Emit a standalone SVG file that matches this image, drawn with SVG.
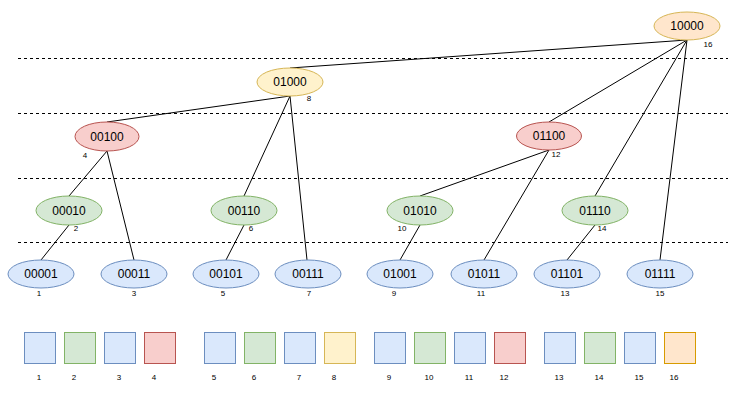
<svg xmlns="http://www.w3.org/2000/svg" width="739" height="394" viewBox="0 0 739 394">
<style>
text{font-family:"Liberation Sans",Arial,sans-serif;fill:#000}
.n{font-size:12px;text-anchor:middle;dominant-baseline:central}
.s{font-size:8px;text-anchor:middle}
.b{font-size:8px;text-anchor:middle}
.blue{fill:#dae8fc;stroke:#6c8ebf}
.green{fill:#d5e8d4;stroke:#82b366}
.red{fill:#f8cecc;stroke:#b85450}
.yellow{fill:#fff2cc;stroke:#d6b656}
.orange{fill:#ffe6cc;stroke:#d6b656}
.orange2{fill:#ffe6cc;stroke:#d79b00}
.dash{stroke:#000;stroke-dasharray:3 3;fill:none}
.e{stroke:#000;fill:none}
</style>
<rect width="739" height="394" fill="#fff"/>
<g id="levels">
<line class="dash" x1="18" y1="58.5" x2="728" y2="58.5"/>
<line class="dash" x1="18" y1="113.5" x2="728" y2="113.5"/>
<line class="dash" x1="18" y1="178.5" x2="728" y2="178.5"/>
<line class="dash" x1="18" y1="242.5" x2="728" y2="242.5"/>
</g>
<g id="connectors">
<line class="e" x1="687" y1="40" x2="290" y2="68"/>
<line class="e" x1="687" y1="40" x2="549" y2="122"/>
<line class="e" x1="687" y1="40" x2="595" y2="196"/>
<line class="e" x1="687" y1="40" x2="660" y2="260"/>
<line class="e" x1="290" y1="96" x2="107" y2="122"/>
<line class="e" x1="290" y1="96" x2="244" y2="196"/>
<line class="e" x1="290" y1="96" x2="307" y2="260"/>
<line class="e" x1="107" y1="151" x2="69" y2="196"/>
<line class="e" x1="107" y1="151" x2="134" y2="260"/>
<line class="e" x1="69" y1="225" x2="41" y2="260"/>
<line class="e" x1="244" y1="225" x2="226" y2="260"/>
<line class="e" x1="549" y1="150" x2="420" y2="196"/>
<line class="e" x1="549" y1="150" x2="484" y2="260"/>
<line class="e" x1="420" y1="225" x2="400" y2="260"/>
<line class="e" x1="595" y1="225" x2="567" y2="260"/>
</g>
<g id="n10000"><ellipse class="orange" cx="687" cy="26" rx="33" ry="14"/><text class="n" x="687" y="26">10000</text><text class="s" x="708" y="47">16</text></g>
<g id="n01000"><ellipse class="yellow" cx="290" cy="82" rx="33" ry="14"/><text class="n" x="290" y="82">01000</text><text class="s" x="309" y="101">8</text></g>
<g id="n00100"><ellipse class="red" cx="107" cy="136.5" rx="32" ry="14.5"/><text class="n" x="107" y="136.5">00100</text><text class="s" x="85" y="158">4</text></g>
<g id="n01100"><ellipse class="red" cx="549" cy="136" rx="32.5" ry="14"/><text class="n" x="549" y="136">01100</text><text class="s" x="556" y="157">12</text></g>
<g id="n00010"><ellipse class="green" cx="69" cy="210.5" rx="33" ry="14.5"/><text class="n" x="69" y="210.5">00010</text><text class="s" x="76" y="231">2</text></g>
<g id="n00110"><ellipse class="green" cx="244" cy="210.5" rx="33" ry="14.5"/><text class="n" x="244" y="210.5">00110</text><text class="s" x="251" y="231">6</text></g>
<g id="n01010"><ellipse class="green" cx="420" cy="210.5" rx="33" ry="14.5"/><text class="n" x="420" y="210.5">01010</text><text class="s" x="402" y="231">10</text></g>
<g id="n01110"><ellipse class="green" cx="595" cy="210.5" rx="33" ry="14.5"/><text class="n" x="595" y="210.5">01110</text><text class="s" x="602" y="231">14</text></g>
<g id="n00001"><ellipse class="blue" cx="41" cy="274" rx="33" ry="14"/><text class="n" x="41" y="274">00001</text><text class="s" x="39" y="296">1</text></g>
<g id="n00011"><ellipse class="blue" cx="134" cy="274" rx="33" ry="14"/><text class="n" x="134" y="274">00011</text><text class="s" x="134" y="296">3</text></g>
<g id="n00101"><ellipse class="blue" cx="226" cy="274" rx="33" ry="14"/><text class="n" x="226" y="274">00101</text><text class="s" x="223" y="296">5</text></g>
<g id="n00111"><ellipse class="blue" cx="308" cy="274" rx="33" ry="14"/><text class="n" x="308" y="274">00111</text><text class="s" x="309" y="296">7</text></g>
<g id="n01001"><ellipse class="blue" cx="400" cy="274" rx="33" ry="14"/><text class="n" x="400" y="274">01001</text><text class="s" x="394" y="296">9</text></g>
<g id="n01011"><ellipse class="blue" cx="484" cy="274" rx="33" ry="14"/><text class="n" x="484" y="274">01011</text><text class="s" x="481" y="296">11</text></g>
<g id="n01101"><ellipse class="blue" cx="567" cy="274" rx="33" ry="14"/><text class="n" x="567" y="274">01101</text><text class="s" x="565" y="296">13</text></g>
<g id="n01111"><ellipse class="blue" cx="660" cy="274" rx="33" ry="14"/><text class="n" x="660" y="274">01111</text><text class="s" x="660" y="296">15</text></g>
<g id="boxes">
<g id="b1"><rect class="blue" x="24.5" y="332.5" width="31" height="31"/><text class="b" x="39" y="380">1</text></g>
<g id="b2"><rect class="green" x="64.5" y="332.5" width="31" height="31"/><text class="b" x="74" y="380">2</text></g>
<g id="b3"><rect class="blue" x="104.5" y="332.5" width="31" height="31"/><text class="b" x="119" y="380">3</text></g>
<g id="b4"><rect class="red" x="144.5" y="332.5" width="31" height="31"/><text class="b" x="154" y="380">4</text></g>
<g id="b5"><rect class="blue" x="204.5" y="332.5" width="31" height="31"/><text class="b" x="214" y="380">5</text></g>
<g id="b6"><rect class="green" x="244.5" y="332.5" width="31" height="31"/><text class="b" x="254" y="380">6</text></g>
<g id="b7"><rect class="blue" x="284.5" y="332.5" width="31" height="31"/><text class="b" x="299" y="380">7</text></g>
<g id="b8"><rect class="yellow" x="324.5" y="332.5" width="31" height="31"/><text class="b" x="334" y="380">8</text></g>
<g id="b9"><rect class="blue" x="374.5" y="332.5" width="31" height="31"/><text class="b" x="389" y="380">9</text></g>
<g id="b10"><rect class="green" x="414.5" y="332.5" width="31" height="31"/><text class="b" x="429" y="380">10</text></g>
<g id="b11"><rect class="blue" x="454.5" y="332.5" width="31" height="31"/><text class="b" x="469" y="380">11</text></g>
<g id="b12"><rect class="red" x="494.5" y="332.5" width="31" height="31"/><text class="b" x="504" y="380">12</text></g>
<g id="b13"><rect class="blue" x="544.5" y="332.5" width="31" height="31"/><text class="b" x="559" y="380">13</text></g>
<g id="b14"><rect class="green" x="584.5" y="332.5" width="31" height="31"/><text class="b" x="599" y="380">14</text></g>
<g id="b15"><rect class="blue" x="624.5" y="332.5" width="31" height="31"/><text class="b" x="639" y="380">15</text></g>
<g id="b16"><rect class="orange2" x="664.5" y="332.5" width="31" height="31"/><text class="b" x="674" y="380">16</text></g>
</g>
</svg>
